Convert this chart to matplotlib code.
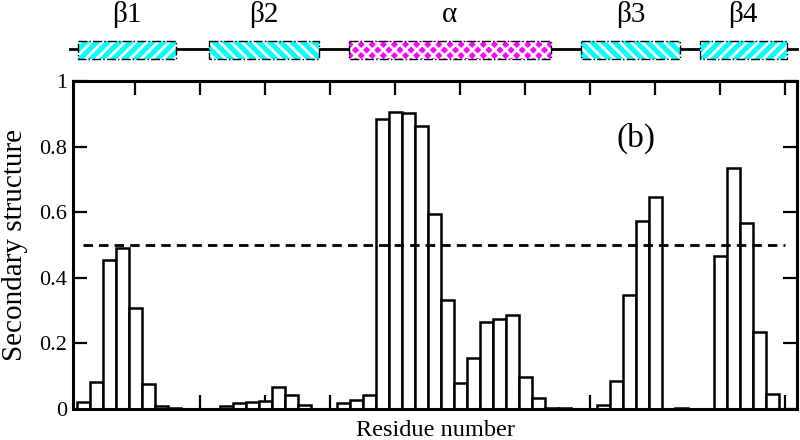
import matplotlib
matplotlib.use("Agg")
import matplotlib.pyplot as plt
from matplotlib.patches import Rectangle

plt.rcParams['font.family'] = ['Liberation Serif', 'DejaVu Serif']
plt.rcParams['hatch.linewidth'] = 2.0

# per-residue secondary structure propensity (residues 1..55)
residues = list(range(1, 56))
propensity = [
    0.02, 0.083, 0.455, 0.49, 0.307, 0.076, 0.008, 0.003, 0.0, 0.0,
    0.0, 0.01, 0.017, 0.02, 0.025, 0.066, 0.044, 0.012, 0.0, 0.0,
    0.017, 0.027, 0.043, 0.884, 0.905, 0.901, 0.864, 0.595, 0.332, 0.078,
    0.155, 0.266, 0.274, 0.287, 0.098, 0.033, 0.003, 0.002, 0.0, 0.0,
    0.013, 0.086, 0.348, 0.574, 0.645, 0.0, 0.004, 0.0, 0.0, 0.467,
    0.734, 0.567, 0.234, 0.046, 0.0,
]
threshold = 0.5

# secondary structure elements (start, end in residue units)
ss_labels = ['β1', 'β2', 'α', 'β3', 'β4']
ss_start = [0.6, 10.7, 21.4, 39.3, 48.4]
ss_end = [8.1, 19.1, 37.0, 46.9, 55.1]
ss_type = ['strand', 'strand', 'helix', 'strand', 'strand']
ss_hatch = ['///', '\\\\\\', 'xxx', '\\\\\\', '///']

XMIN, XMAX = 0.2, 55.9

fig = plt.figure(figsize=(8, 4.4), dpi=100)

# ---- main bar chart ----
ax = fig.add_axes([73 / 800, 1 - 409 / 440, 724 / 800, 328 / 440])
ax.bar(residues, propensity, width=1.0, color='white', edgecolor='black',
       linewidth=1.8, zorder=2)
ax.plot([residues[0], residues[-1]], [threshold, threshold], color='black',
        lw=2, linestyle=(0, (3.4, 2.2)), zorder=3)

ax.set_xlim(XMIN, XMAX)
ax.set_ylim(0, 1)
ax.set_xticks(range(5, 56, 5))
ax.set_yticks([0, 0.2, 0.4, 0.6, 0.8, 1.0])
ax.set_yticklabels(['0', '0.2', '0.4', '0.6', '0.8', '1'])
ax.tick_params(direction='in', length=10, width=1.6, top=True, right=True,
               labelbottom=False, labelsize=16, pad=4)
for s in ax.spines.values():
    s.set_linewidth(2.2)
ax.set_ylabel('Secondary structure', fontsize=21, labelpad=8)
ax.set_xlabel('Residue number', fontsize=17.5, labelpad=8)
ax.text(0.778, 0.825, '(b)', transform=ax.transAxes, fontsize=24,
        ha='center', va='center')

# ---- secondary structure diagram on top ----
top = fig.add_axes([73 / 800, 1 - 70 / 440, 724 / 800, 70 / 440])
top.set_xlim(XMIN, XMAX)
top.set_ylim(70, 0)
top.axis('off')
top.plot([XMIN - 0.2, XMAX], [49.5, 49.5], color='black', lw=2,
         clip_on=False, zorder=1)
for lab, x0, x1, kind, h in zip(ss_labels, ss_start, ss_end, ss_type, ss_hatch):
    fc = '#ff00ff' if kind == 'helix' else '#00ffff'
    top.add_patch(Rectangle((x0, 41.5), x1 - x0, 18, facecolor=fc,
                            edgecolor='white', hatch=h, linewidth=0, zorder=2))
    top.add_patch(Rectangle((x0, 41.5), x1 - x0, 18, facecolor='none',
                            edgecolor='black', linestyle='-.', linewidth=1.0,
                            zorder=3))
    top.text((x0 + x1) / 2, 15, lab, fontsize=21, ha='center', va='center')

fig.savefig('out.png', dpi=100)
